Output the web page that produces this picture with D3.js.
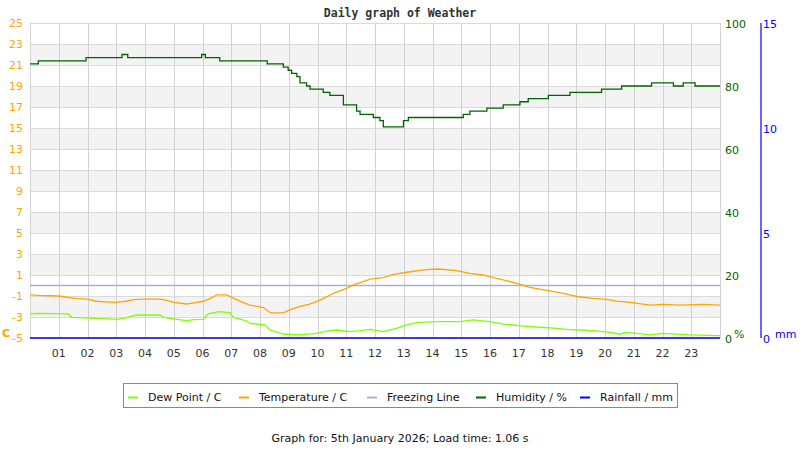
<!DOCTYPE html>
<html>
<head>
<meta charset="utf-8">
<script src="https://cdn.jsdelivr.net/npm/d3@7"></script>
<style>
  body { margin: 0; background: #fff; }
  text { font-family: "DejaVu Sans", sans-serif; }
</style>
</head>
<body>
<svg id="chart" width="800" height="450"></svg>
<script>
// hourly tick labels and axis ticks
let xTickLabels = ["01","02","03","04","05","06","07","08","09","10","11","12","13","14","15","16","17","18","19","20","21","22","23"];
let tempTicks = [25, 23, 21, 19, 17, 15, 13, 11, 9, 7, 5, 3, 1, -1, -3, -5];
let humTicks = [0, 20, 40, 60, 80, 100];
let rainTicks = [0, 5, 10, 15];

// temperature / C
let tempHours = [0, 0.3, 1.0, 1.3, 1.6, 2.0, 2.3, 2.6, 3.0, 3.36, 3.6, 4.0, 4.52, 4.8, 5.0, 5.45, 5.7, 6.03, 6.3, 6.5, 6.84, 7.0, 7.19, 7.4, 7.65, 8.12, 8.3, 8.41, 8.81, 9.04, 9.39, 9.7, 9.97, 10.3, 10.55, 11.01, 11.3, 11.59, 11.83, 12.29, 12.64, 13.22, 13.68, 14.2, 14.84, 15.3, 15.77, 16.23, 16.6, 16.93, 17.39, 18.03, 18.55, 19.07, 19.59, 20.06, 20.41, 20.87, 21.57, 22.03, 22.61, 23.42, 24];
let tempValues = [-0.9, -0.95, -1.0, -1.12, -1.25, -1.3, -1.5, -1.55, -1.6, -1.5, -1.35, -1.3, -1.3, -1.45, -1.6, -1.76, -1.65, -1.5, -1.2, -0.9, -0.9, -1.1, -1.35, -1.6, -1.86, -2.1, -2.5, -2.6, -2.6, -2.33, -2.0, -1.8, -1.54, -1.1, -0.74, -0.27, 0.1, 0.37, 0.6, 0.76, 1.06, 1.31, 1.48, 1.57, 1.41, 1.16, 1.0, 0.68, 0.45, 0.2, -0.17, -0.49, -0.74, -1.07, -1.22, -1.32, -1.48, -1.6, -1.86, -1.79, -1.86, -1.79, -1.86];

// dew point / C
let dewHours = [0, 0.3, 1.33, 1.45, 2.32, 3.01, 3.3, 3.48, 3.71, 4.52, 4.65, 5.1, 5.45, 5.7, 6.03, 6.2, 6.55, 6.96, 7.07, 7.3, 7.54, 7.65, 8.17, 8.35, 8.81, 9.39, 9.97, 10.3, 10.67, 11.13, 11.5, 11.83, 12.29, 12.75, 13.1, 13.45, 14.14, 14.96, 15.42, 16.0, 16.46, 17.16, 17.86, 18.32, 18.67, 19.13, 19.71, 20.17, 20.52, 20.7, 21.1, 21.57, 22.03, 22.49, 22.96, 23.94, 24];
let dewValues = [-2.71, -2.65, -2.71, -3.03, -3.13, -3.22, -3.1, -2.97, -2.81, -2.81, -3.03, -3.22, -3.35, -3.25, -3.22, -2.71, -2.49, -2.59, -3.03, -3.2, -3.38, -3.6, -3.76, -4.24, -4.62, -4.71, -4.56, -4.35, -4.24, -4.4, -4.3, -4.17, -4.4, -4.08, -3.76, -3.54, -3.44, -3.44, -3.28, -3.44, -3.67, -3.86, -4.0, -4.08, -4.17, -4.24, -4.33, -4.46, -4.64, -4.46, -4.56, -4.71, -4.56, -4.64, -4.71, -4.78, -4.78];

// humidity / %
let humHours = [0, 0.29, 1.95, 3.2, 3.4, 5.97, 6.1, 6.6, 8.25, 8.81, 8.98, 9.1, 9.28, 9.39, 9.62, 9.74, 10.2, 10.43, 10.9, 11.36, 11.48, 11.94, 12.17, 12.29, 12.99, 13.16, 15.07, 15.3, 15.89, 16.46, 17.04, 17.33, 18.03, 18.78, 19.88, 20.58, 21.62, 22.38, 22.72, 23.13, 24];
let humValues = [87, 88, 89, 90, 89, 90, 89, 88, 87, 86, 85, 84, 83, 81, 80, 79, 78, 77, 74, 72, 71, 70, 69, 67, 69, 70, 71, 72, 73, 74, 75, 76, 77, 78, 79, 80, 81, 80, 81, 80, 80];

// rainfall / mm
let rainHours = [0, 24];
let rainValues = [0, 0];

let freezingLevel = 0;

let legendItems = [
    { label: "Dew Point / C", color: "#80ff00" },
    { label: "Temperature / C", color: "#ffa500" },
    { label: "Freezing Line", color: "#a4b4cc" },
    { label: "Humidity / %", color: "#006400" },
    { label: "Rainfall / mm", color: "#0000ff" },
];

let svg = d3.select("#chart");
let gLeft = 30, gRight = 720, gTop = 23, gBottom = 338;

let x = d3.scaleLinear().domain([0, 24]).range([gLeft, gRight]);
let yT = d3.scaleLinear().domain([-5, 25]).range([gBottom, gTop]);
let yH = d3.scaleLinear().domain([0, 100]).range([gBottom, gTop]);
let yR = d3.scaleLinear().domain([0, 15]).range([gBottom, gTop]);

// alternating grey bands
let bands = d3.range(-3, 25, 4);
svg.selectAll(".band")
    .data(bands)
    .enter()
    .append("rect")
    .attr("class", "band")
    .attr("x", gLeft)
    .attr("width", gRight - gLeft)
    .attr("y", (d) => yT(d + 2))
    .attr("height", (d) => yT(d) - yT(d + 2))
    .style("fill", "#f3f3f3");

// horizontal grid
svg.selectAll(".hgrid")
    .data(d3.range(-5, 26, 2))
    .enter()
    .append("line")
    .attr("x1", gLeft)
    .attr("x2", gRight)
    .attr("y1", (d) => Math.round(yT(d)) + 0.5)
    .attr("y2", (d) => Math.round(yT(d)) + 0.5)
    .style("stroke", "#dadada");

// vertical grid
svg.selectAll(".vgrid")
    .data(d3.range(0, 25))
    .enter()
    .append("line")
    .attr("x1", (d) => Math.round(x(d)) + 0.5)
    .attr("x2", (d) => Math.round(x(d)) + 0.5)
    .attr("y1", gTop)
    .attr("y2", gBottom)
    .style("stroke", "#d2d2d2");

// freezing line
svg.append("line")
    .attr("x1", gLeft)
    .attr("x2", gRight)
    .attr("y1", yT(freezingLevel))
    .attr("y2", yT(freezingLevel))
    .style("stroke", "#a4b4cc")
    .style("stroke-width", 1.3);

function drawSeries(hours, values, yScale, color, curve, w) {
    let pts = hours.map((h, i) => [h, values[i]]);
    let line = d3.line()
        .x((d) => x(d[0]))
        .y((d) => yScale(d[1]))
        .curve(curve);
    svg.append("path")
        .attr("d", line(pts))
        .style("fill", "none")
        .style("stroke", color)
        .style("stroke-width", w);
}

drawSeries(dewHours, dewValues, yT, "#80ff00", d3.curveLinear, 1.3);
drawSeries(tempHours, tempValues, yT, "#ffa500", d3.curveLinear, 1.3);
drawSeries(humHours, humValues, yH, "#006400", d3.curveStepAfter, 1.3);
drawSeries(rainHours, rainValues, yR, "#0000cc", d3.curveLinear, 1.5);

// title
svg.append("text")
    .attr("x", 400)
    .attr("y", 17)
    .attr("text-anchor", "middle")
    .style("font-family", "'DejaVu Sans Mono', monospace")
    .style("font-weight", "bold")
    .style("font-size", "11.5px")
    .style("fill", "#333")
    .text("Daily graph of Weather");

// left temperature axis
svg.selectAll(".tlab")
    .data(tempTicks)
    .enter()
    .append("text")
    .attr("x", 23)
    .attr("y", (d) => yT(d) + 4)
    .attr("text-anchor", "end")
    .style("font-size", "11px")
    .style("fill", "#ffa500")
    .text((d) => d);

svg.append("text")
    .attr("x", 2)
    .attr("y", 337)
    .style("font-size", "11px")
    .style("font-weight", "bold")
    .style("fill", "#ffa500")
    .text("C");

// x labels
svg.selectAll(".xlab")
    .data(xTickLabels)
    .enter()
    .append("text")
    .attr("x", (d, i) => x(i + 1))
    .attr("y", 357)
    .attr("text-anchor", "middle")
    .style("font-size", "11px")
    .style("fill", "#333")
    .text((d) => d);

// humidity axis
svg.selectAll(".hlab")
    .data(humTicks)
    .enter()
    .append("text")
    .attr("x", 725)
    .attr("y", (d) => yH(d) + 5)
    .style("font-size", "11px")
    .style("fill", "#006400")
    .text((d) => d);

svg.append("text")
    .attr("x", 734)
    .attr("y", 338)
    .style("font-size", "11px")
    .style("fill", "#006400")
    .text("%");

// rainfall axis
svg.append("line")
    .attr("x1", 761)
    .attr("x2", 761)
    .attr("y1", gTop)
    .attr("y2", gBottom)
    .style("stroke", "#0000ff")
    .style("stroke-width", 1.2);

svg.selectAll(".rlab")
    .data(rainTicks)
    .enter()
    .append("text")
    .attr("x", 763)
    .attr("y", (d) => yR(d) + 5)
    .style("font-size", "11px")
    .style("fill", "#0000ff")
    .text((d) => d);

svg.append("text")
    .attr("x", 775)
    .attr("y", 338)
    .style("font-size", "11px")
    .style("fill", "#0000ff")
    .text("mm");

// legend
svg.append("rect")
    .attr("x", 123.5)
    .attr("y", 383.5)
    .attr("width", 554)
    .attr("height", 24)
    .style("fill", "#fff")
    .style("stroke", "#888");

let legendX = [128, 239, 367, 476, 580];
let legend = svg.selectAll(".leg")
    .data(legendItems)
    .enter()
    .append("g")
    .attr("transform", (d, i) => `translate(${legendX[i]}, 397)`);

legend.append("line")
    .attr("x1", 0)
    .attr("x2", 10)
    .attr("y1", 0.5)
    .attr("y2", 0.5)
    .style("stroke", (d) => d.color)
    .style("stroke-width", 2);

legend.append("text")
    .attr("x", 20)
    .attr("y", 4)
    .style("font-size", "11px")
    .style("fill", "#111")
    .text((d) => d.label);

// footer
svg.append("text")
    .attr("x", 400)
    .attr("y", 442)
    .attr("text-anchor", "middle")
    .style("font-size", "11px")
    .style("fill", "#111")
    .text("Graph for: 5th January 2026; Load time: 1.06 s");
</script>
</body>
</html>
